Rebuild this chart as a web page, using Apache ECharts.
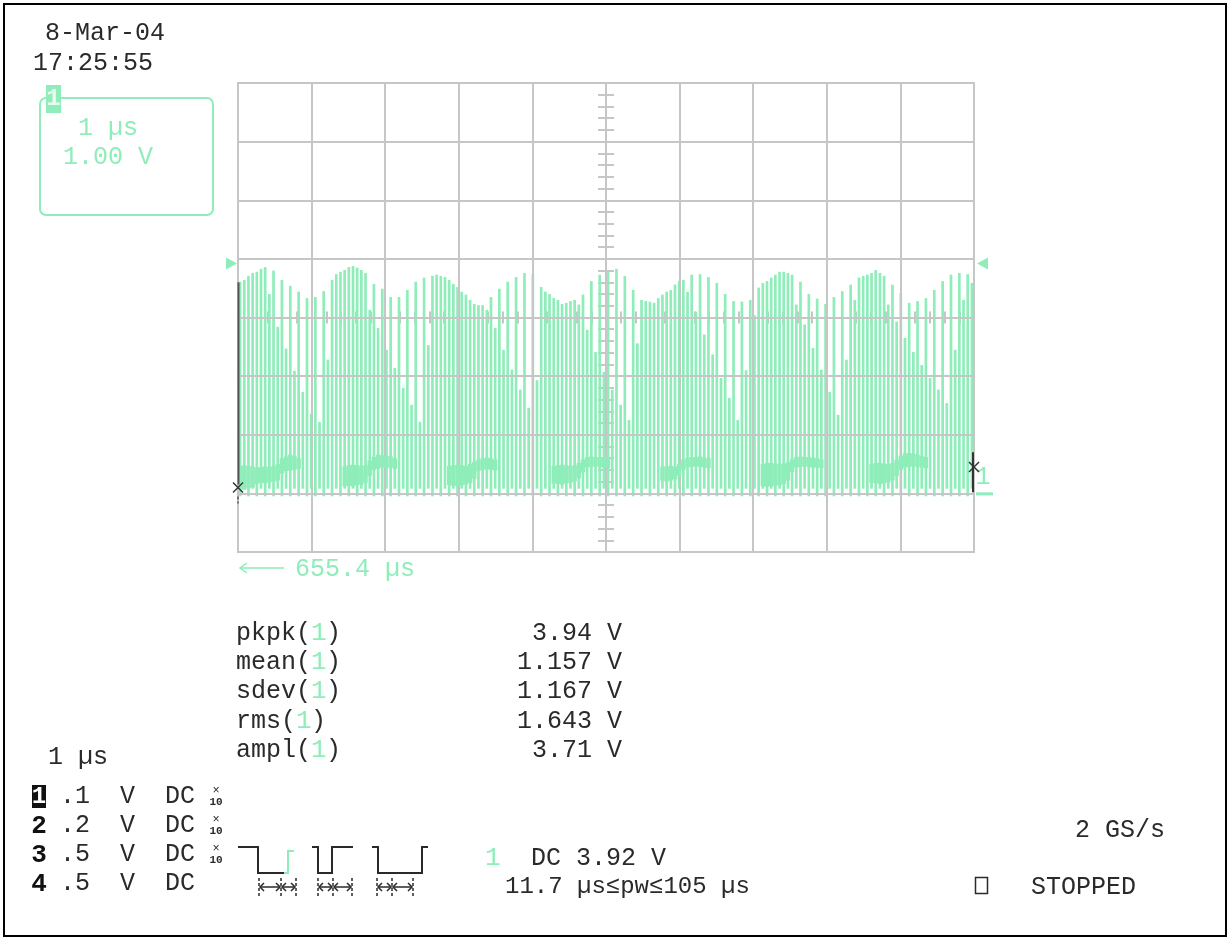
<!DOCTYPE html>
<html>
<head>
<meta charset="utf-8">
<script src="https://cdn.jsdelivr.net/npm/echarts@6/dist/echarts.min.js"></script>
<style>
  html, body { margin: 0; padding: 0; background: #ffffff; }
  #chart { width: 1231px; height: 939px; }
</style>
</head>
<body>
<div id="chart"></div>
<script>
// Channel 1 acquisition: 176 sampled pulses across 10 divisions (1 us/div, 1 V/div).
// Top level of each pulse, in volts.
const strokeTops = [
  3.61, 3.64, 3.71, 3.76, 3.78, 3.83, 3.86, 3.40, 3.80, 2.84, 3.64, 2.47, 3.54, 2.09, 3.44, 1.73,
  3.33, 1.36, 3.35, 1.22, 3.45, 2.28, 3.64, 3.74, 3.78, 3.81, 3.86, 3.88, 3.85, 3.81, 3.76, 3.13,
  3.57, 2.82, 3.49, 2.45, 3.35, 2.14, 3.35, 1.80, 3.47, 1.51, 3.61, 1.22, 3.68, 2.53, 3.71, 3.73,
  3.71, 3.69, 3.64, 3.57, 3.52, 3.44, 3.39, 3.30, 3.23, 3.21, 3.21, 3.13, 3.35, 2.82, 3.49, 2.45,
  3.61, 2.11, 3.69, 1.77, 3.76, 1.46, 3.74, 1.93, 3.52, 3.44, 3.40, 3.33, 3.30, 3.23, 3.25, 3.28,
  3.30, 3.22, 3.39, 2.79, 3.62, 2.41, 3.73, 2.07, 3.78, 1.77, 3.83, 1.51, 3.71, 1.25, 3.47, 2.56,
  3.30, 3.28, 3.27, 3.25, 3.33, 3.39, 3.44, 3.47, 3.56, 3.62, 3.64, 3.44, 3.73, 3.10, 3.74, 2.71,
  3.69, 2.37, 3.59, 1.97, 3.40, 1.63, 3.28, 1.25, 3.27, 2.10, 3.30, 3.04, 3.51, 3.59, 3.62, 3.68,
  3.73, 3.78, 3.78, 3.76, 3.73, 3.22, 3.61, 2.88, 3.40, 2.48, 3.32, 2.11, 3.23, 1.73, 3.35, 1.34,
  3.45, 2.28, 3.56, 3.30, 3.68, 3.71, 3.73, 3.76, 3.81, 3.76, 3.71, 3.22, 3.56, 2.93, 3.42, 2.65,
  3.25, 2.41, 3.28, 2.19, 3.33, 1.97, 3.47, 1.77, 3.62, 1.54, 3.73, 2.45, 3.76, 3.30, 3.74, 3.59
];
// Low level of the pulses: even-numbered and odd-numbered pulses settle at slightly different levels.
const strokeFloors = [-0.05, 0.08];

// Dense low-level activity between pulses: [pulse index, low V, high V].
const bandSamples = [
  [0, 0.08, 0.47], [1, 0.06, 0.48], [2, 0.09, 0.47], [3, 0.10, 0.46], [4, 0.16, 0.44], [5, 0.18, 0.45],
  [6, 0.17, 0.46], [7, 0.19, 0.45], [8, 0.20, 0.47], [9, 0.22, 0.50], [10, 0.34, 0.60], [11, 0.38, 0.63],
  [12, 0.39, 0.66], [13, 0.40, 0.64], [14, 0.42, 0.60],
  [25, 0.12, 0.46], [26, 0.13, 0.48], [27, 0.12, 0.49], [28, 0.14, 0.48], [29, 0.15, 0.47], [30, 0.18, 0.48],
  [31, 0.30, 0.56], [32, 0.40, 0.62], [33, 0.42, 0.66], [34, 0.44, 0.65], [35, 0.43, 0.64], [36, 0.44, 0.63],
  [37, 0.42, 0.60],
  [50, 0.14, 0.47], [51, 0.13, 0.48], [52, 0.12, 0.49], [53, 0.14, 0.48], [54, 0.15, 0.47], [55, 0.18, 0.50],
  [56, 0.25, 0.54], [57, 0.38, 0.58], [58, 0.40, 0.60], [59, 0.41, 0.61], [60, 0.40, 0.60], [61, 0.39, 0.58],
  [75, 0.17, 0.47], [76, 0.16, 0.48], [77, 0.15, 0.49], [78, 0.17, 0.48], [79, 0.18, 0.47], [80, 0.20, 0.48],
  [81, 0.26, 0.52], [82, 0.36, 0.58], [83, 0.44, 0.62], [84, 0.45, 0.63], [85, 0.46, 0.62], [86, 0.45, 0.61],
  [87, 0.44, 0.62], [88, 0.43, 0.60],
  [101, 0.22, 0.46], [102, 0.20, 0.46], [103, 0.22, 0.47], [104, 0.24, 0.46], [105, 0.30, 0.50], [106, 0.40, 0.58],
  [107, 0.44, 0.61], [108, 0.45, 0.62], [109, 0.46, 0.62], [110, 0.45, 0.63], [111, 0.44, 0.61], [112, 0.43, 0.60],
  [125, 0.12, 0.50], [126, 0.11, 0.52], [127, 0.12, 0.52], [128, 0.13, 0.51], [129, 0.14, 0.50], [130, 0.16, 0.51],
  [131, 0.22, 0.53], [132, 0.36, 0.58], [133, 0.44, 0.62], [134, 0.45, 0.63], [135, 0.46, 0.62], [136, 0.45, 0.62],
  [137, 0.44, 0.61], [138, 0.44, 0.60], [139, 0.43, 0.58],
  [151, 0.18, 0.50], [152, 0.17, 0.52], [153, 0.16, 0.52], [154, 0.17, 0.51], [155, 0.19, 0.50], [156, 0.22, 0.52],
  [157, 0.30, 0.58], [158, 0.40, 0.64], [159, 0.44, 0.68], [160, 0.45, 0.69], [161, 0.46, 0.68], [162, 0.45, 0.66],
  [163, 0.44, 0.64], [164, 0.43, 0.62]
];

// Screen annotations
const acquisitionDate = '8-Mar-04';
const acquisitionTime = '17:25:55';
const channelTimebase = '1 \u00b5s';
const channelScale = '1.00 V';
const horizontalDelay = '655.4 \u00b5s';
const measureNames = ['pkpk', 'mean', 'sdev', 'rms', 'ampl'];
const measureValues = ['3.94 V', '1.157 V', '1.167 V', '1.643 V', '3.71 V'];
const channelIds = ['1', '2', '3', '4'];
const channelVolts = ['.1', '.2', '.5', '.5'];
const channelProbeX10 = [true, true, true, false];
const triggerLevel = 3.92;
const triggerText = 'DC 3.92 V';
const triggerWidth = '11.7 \u00b5s\u2264pw\u2264105 \u00b5s';
const sampleRate = '2 GS/s';
const runState = 'STOPPED';
const traceStart = { tLow: 0.15, tHigh: 3.6, cross: 0.1 };
const traceEnd = { low: 0.02, high: 0.7, cross: 0.45 };

const TRACE = '#8eedb9';
const GRID = '#c6c6c6';
const INK = '#2a2a2a';
const MONO = '"Liberation Mono", "DejaVu Sans Mono", monospace';
const RECT = { left: 238, top: 83, width: 736, height: 469 };

const chart = echarts.init(document.getElementById('chart'), null, { renderer: 'canvas' });

function centerAxis(dim, inside) {
  const isX = dim === 'x';
  return {
    gridIndex: 1, type: 'value',
    min: isX ? -5 : -4, max: isX ? 5 : 4, interval: 0.2,
    position: isX ? 'bottom' : 'left', z: 1,
    axisLine: { show: true, onZero: true, lineStyle: { color: GRID, width: 2 } },
    axisTick: { show: true, inside: inside, length: isX ? 6 : 8, lineStyle: { color: GRID, width: 2 } },
    axisLabel: { show: false }, splitLine: { show: false }
  };
}

const option = {
  animation: false,
  backgroundColor: '#ffffff',
  grid: [
    Object.assign({ show: true, borderColor: GRID, borderWidth: 2, backgroundColor: 'transparent', containLabel: false, outerBoundsMode: 'none' }, RECT),
    Object.assign({ show: false, containLabel: false, outerBoundsMode: 'none' }, RECT)
  ],
  xAxis: [
    { gridIndex: 0, type: 'value', min: 0, max: 10, interval: 1, z: 3,
      axisLine: { show: false, onZero: false }, axisTick: { show: false }, axisLabel: { show: false },
      splitLine: { show: true, lineStyle: { color: GRID, width: 2 } } },
    { gridIndex: 0, type: 'category', data: strokeTops.map((_, i) => String(i)), boundaryGap: true, show: false },
    centerAxis('x', false), centerAxis('x', true)
  ],
  yAxis: [
    { gridIndex: 0, type: 'value', min: -1, max: 7, interval: 1, z: 3,
      axisLine: { show: false, onZero: false }, axisTick: { show: false }, axisLabel: { show: false },
      splitLine: { show: true, lineStyle: { color: GRID, width: 2 } } },
    centerAxis('y', false), centerAxis('y', true)
  ],
  series: [
    {
      type: 'custom', name: 'CH1', xAxisIndex: 1, yAxisIndex: 0, z: 2, silent: true,
      data: strokeTops.map((v, i) => [i, v, strokeFloors[i % 2]]),
      encode: { x: 0, y: 1 },
      renderItem: function (params, api) {
        const i = api.value(0);
        const top = api.coord([i, api.value(1)]);
        const bottom = api.coord([i, api.value(2)]);
        const w = api.size([1, 0])[0] * 0.64;
        return { type: 'rect', shape: { x: top[0] - w / 2, y: top[1], width: w, height: bottom[1] - top[1] },
                 style: { fill: TRACE } };
      }
    },
    {
      type: 'custom', name: 'CH1 low', xAxisIndex: 1, yAxisIndex: 0, z: 4, silent: true,
      data: bandSamples,
      encode: { x: 0, y: [1, 2] },
      renderItem: function (params, api) {
        const i = api.value(0);
        const hi = api.coord([i, api.value(2)]);
        const lo = api.coord([i, api.value(1)]);
        const w = api.size([1, 0])[0] * 1.06;
        return { type: 'rect', shape: { x: hi[0] - w / 2, y: hi[1], width: w, height: lo[1] - hi[1] },
                 style: { fill: TRACE } };
      }
    }
  ]
};
chart.setOption(option);

// Helpers for the screen annotations
const px = t => chart.convertToPixel({ xAxisIndex: 0 }, t);
const py = v => chart.convertToPixel({ yAxisIndex: 0 }, v);
const ADV = 15;
function text(x, y, s, fill, size, weight, align) {
  return { type: 'text', x: x, y: y, silent: true, z: 20,
           style: { text: s, fill: fill, font: (weight || 'normal') + ' ' + size + 'px ' + MONO,
                    align: align || 'left', verticalAlign: 'middle' } };
}
function line(points, stroke, width, dash) {
  return { type: 'polyline', silent: true, z: 20, shape: { points: points },
           style: { stroke: stroke, lineWidth: width || 2, fill: null, lineDash: dash || null } };
}
function cross(x, y, r) {
  return [line([[x - r, y - r], [x + r, y + r]], '#333', 1.5), line([[x - r, y + r], [x + r, y - r]], '#333', 1.5)];
}

const g = [];
// Outer frame
g.push({ type: 'rect', silent: true, z: 20, shape: { x: 4, y: 4, width: 1222, height: 932 },
         style: { fill: null, stroke: '#000', lineWidth: 2 } });

// Date and time
g.push(text(45, 33, acquisitionDate, INK, 25));
g.push(text(33, 63, acquisitionTime, INK, 25));

// Channel 1 descriptor box
g.push({ type: 'rect', silent: true, z: 20, shape: { x: 40, y: 98, width: 173, height: 117, r: 6 },
         style: { fill: null, stroke: TRACE, lineWidth: 2 } });
g.push({ type: 'rect', silent: true, z: 21, shape: { x: 46, y: 85, width: 15, height: 28 }, style: { fill: TRACE } });
g.push(Object.assign(text(53.5, 99, '1', '#e9fbf1', 24, 'bold', 'center'), { z: 22 }));
g.push(text(78, 128, channelTimebase, TRACE, 25));
g.push(text(63, 157, channelScale, TRACE, 25));

// Trigger level markers and trace ground marker
const x0 = px(0), x1 = px(10);
const yT = py(triggerLevel), yG = py(0);
g.push({ type: 'polygon', silent: true, z: 20, shape: { points: [[x0 - 12, yT - 6], [x0 - 1, yT], [x0 - 12, yT + 6]] }, style: { fill: TRACE } });
g.push({ type: 'polygon', silent: true, z: 20, shape: { points: [[x1 + 3, yT], [x1 + 14, yT - 6], [x1 + 14, yT + 6]] }, style: { fill: TRACE } });
g.push(text(x1 + 9, yG - 16, '1', TRACE, 25, 'normal', 'center'));
g.push(line([[x1 + 2, yG + 0.5], [x1 + 19, yG + 0.5]], TRACE, 3));

// Trace start and end edges with cursor crosses
g.push(line([[x0 + 0.5, py(traceStart.tHigh)], [x0 + 0.5, py(traceStart.tLow)]], '#555', 2));
g.push.apply(g, cross(x0, py(traceStart.cross), 5));
g.push(line([[x0, py(traceStart.cross) + 9], [x0, py(traceStart.cross) + 16]], '#555', 1.5, [3, 2]));
g.push(line([[x1 - 1, py(traceEnd.high)], [x1 - 1, py(traceEnd.low)]], '#333', 2));
g.push.apply(g, cross(x1, py(traceEnd.cross), 5));

// Horizontal delay
g.push(line([[x0 + 2, 568], [x0 + 46, 568]], TRACE, 1.5));
g.push(line([[x0 + 9, 563], [x0 + 2, 568], [x0 + 9, 573]], TRACE, 1.5));
g.push(text(295, 569, horizontalDelay, TRACE, 25));

// Measurements
measureNames.forEach((name, k) => {
  const y = 633 + k * 29.3;
  g.push(text(236, y, name + '( )', INK, 25));
  g.push(text(236 + (name.length + 1) * ADV, y, '1', TRACE, 26, 'normal'));
  g.push(text(622, y, measureValues[k], INK, 25, 'normal', 'right'));
});

// Timebase
g.push(text(48, 757, channelTimebase, INK, 25));

// Channel settings table
channelIds.forEach((id, k) => {
  const y = 796 + k * 29;
  if (k === 0) {
    g.push({ type: 'rect', silent: true, z: 20, shape: { x: 32, y: y - 11, width: 14, height: 23 }, style: { fill: '#111' } });
    g.push(Object.assign(text(39, y + 1, id, '#ffffff', 24, 'bold', 'center'), { z: 21 }));
  } else {
    g.push(text(39, y + 1, id, '#111', 26, 'bold', 'center'));
  }
  g.push(text(60, y, channelVolts[k] + '  V  DC', INK, 25));
  if (channelProbeX10[k]) {
    g.push(text(216, y - 5, '\u00d7', INK, 12, 'normal', 'center'));
    g.push(text(216, y + 6, '10', INK, 11, 'bold', 'center'));
  }
});

// Pulse-width trigger glyphs
g.push(line([[238, 847], [258, 847], [258, 873], [284, 873]], INK, 2));
g.push(line([[284, 873], [288, 873], [288, 851], [294, 851]], TRACE, 2));
g.push(line([[312, 847], [318, 847], [318, 873], [332, 873], [332, 847], [353, 847]], INK, 2));
g.push(line([[372, 847], [378, 847], [378, 873], [422, 873], [422, 847], [428, 847]], INK, 2));
[[259, 281, 296], [318, 333, 352], [377, 392, 413]].forEach(ticks => {
  ticks.forEach(x => g.push(line([[x, 878], [x, 897]], INK, 1.5, [3, 2])));
  for (let j = 0; j < 2; j++) {
    const a = ticks[j] + 1, b = ticks[j + 1] - 1;
    g.push(line([[a, 887], [b, 887]], INK, 1.5));
    g.push(line([[a + 4, 883], [a, 887], [a + 4, 891]], INK, 1.5));
    g.push(line([[b - 4, 883], [b, 887], [b - 4, 891]], INK, 1.5));
  }
});

// Trigger condition and acquisition status
g.push(text(485, 858, '1', TRACE, 26, 'normal'));
g.push(text(531, 858, triggerText, INK, 25));
g.push(text(505, 887, triggerWidth, INK, 24));
g.push(text(1075, 830, sampleRate, INK, 25));
g.push({ type: 'rect', silent: true, z: 20, shape: { x: 975.5, y: 877.5, width: 12, height: 16 },
         style: { fill: null, stroke: INK, lineWidth: 1.5 } });
g.push(text(1031, 887, runState, INK, 25));

chart.setOption({ graphic: { elements: g } });
</script>
</body>
</html>
